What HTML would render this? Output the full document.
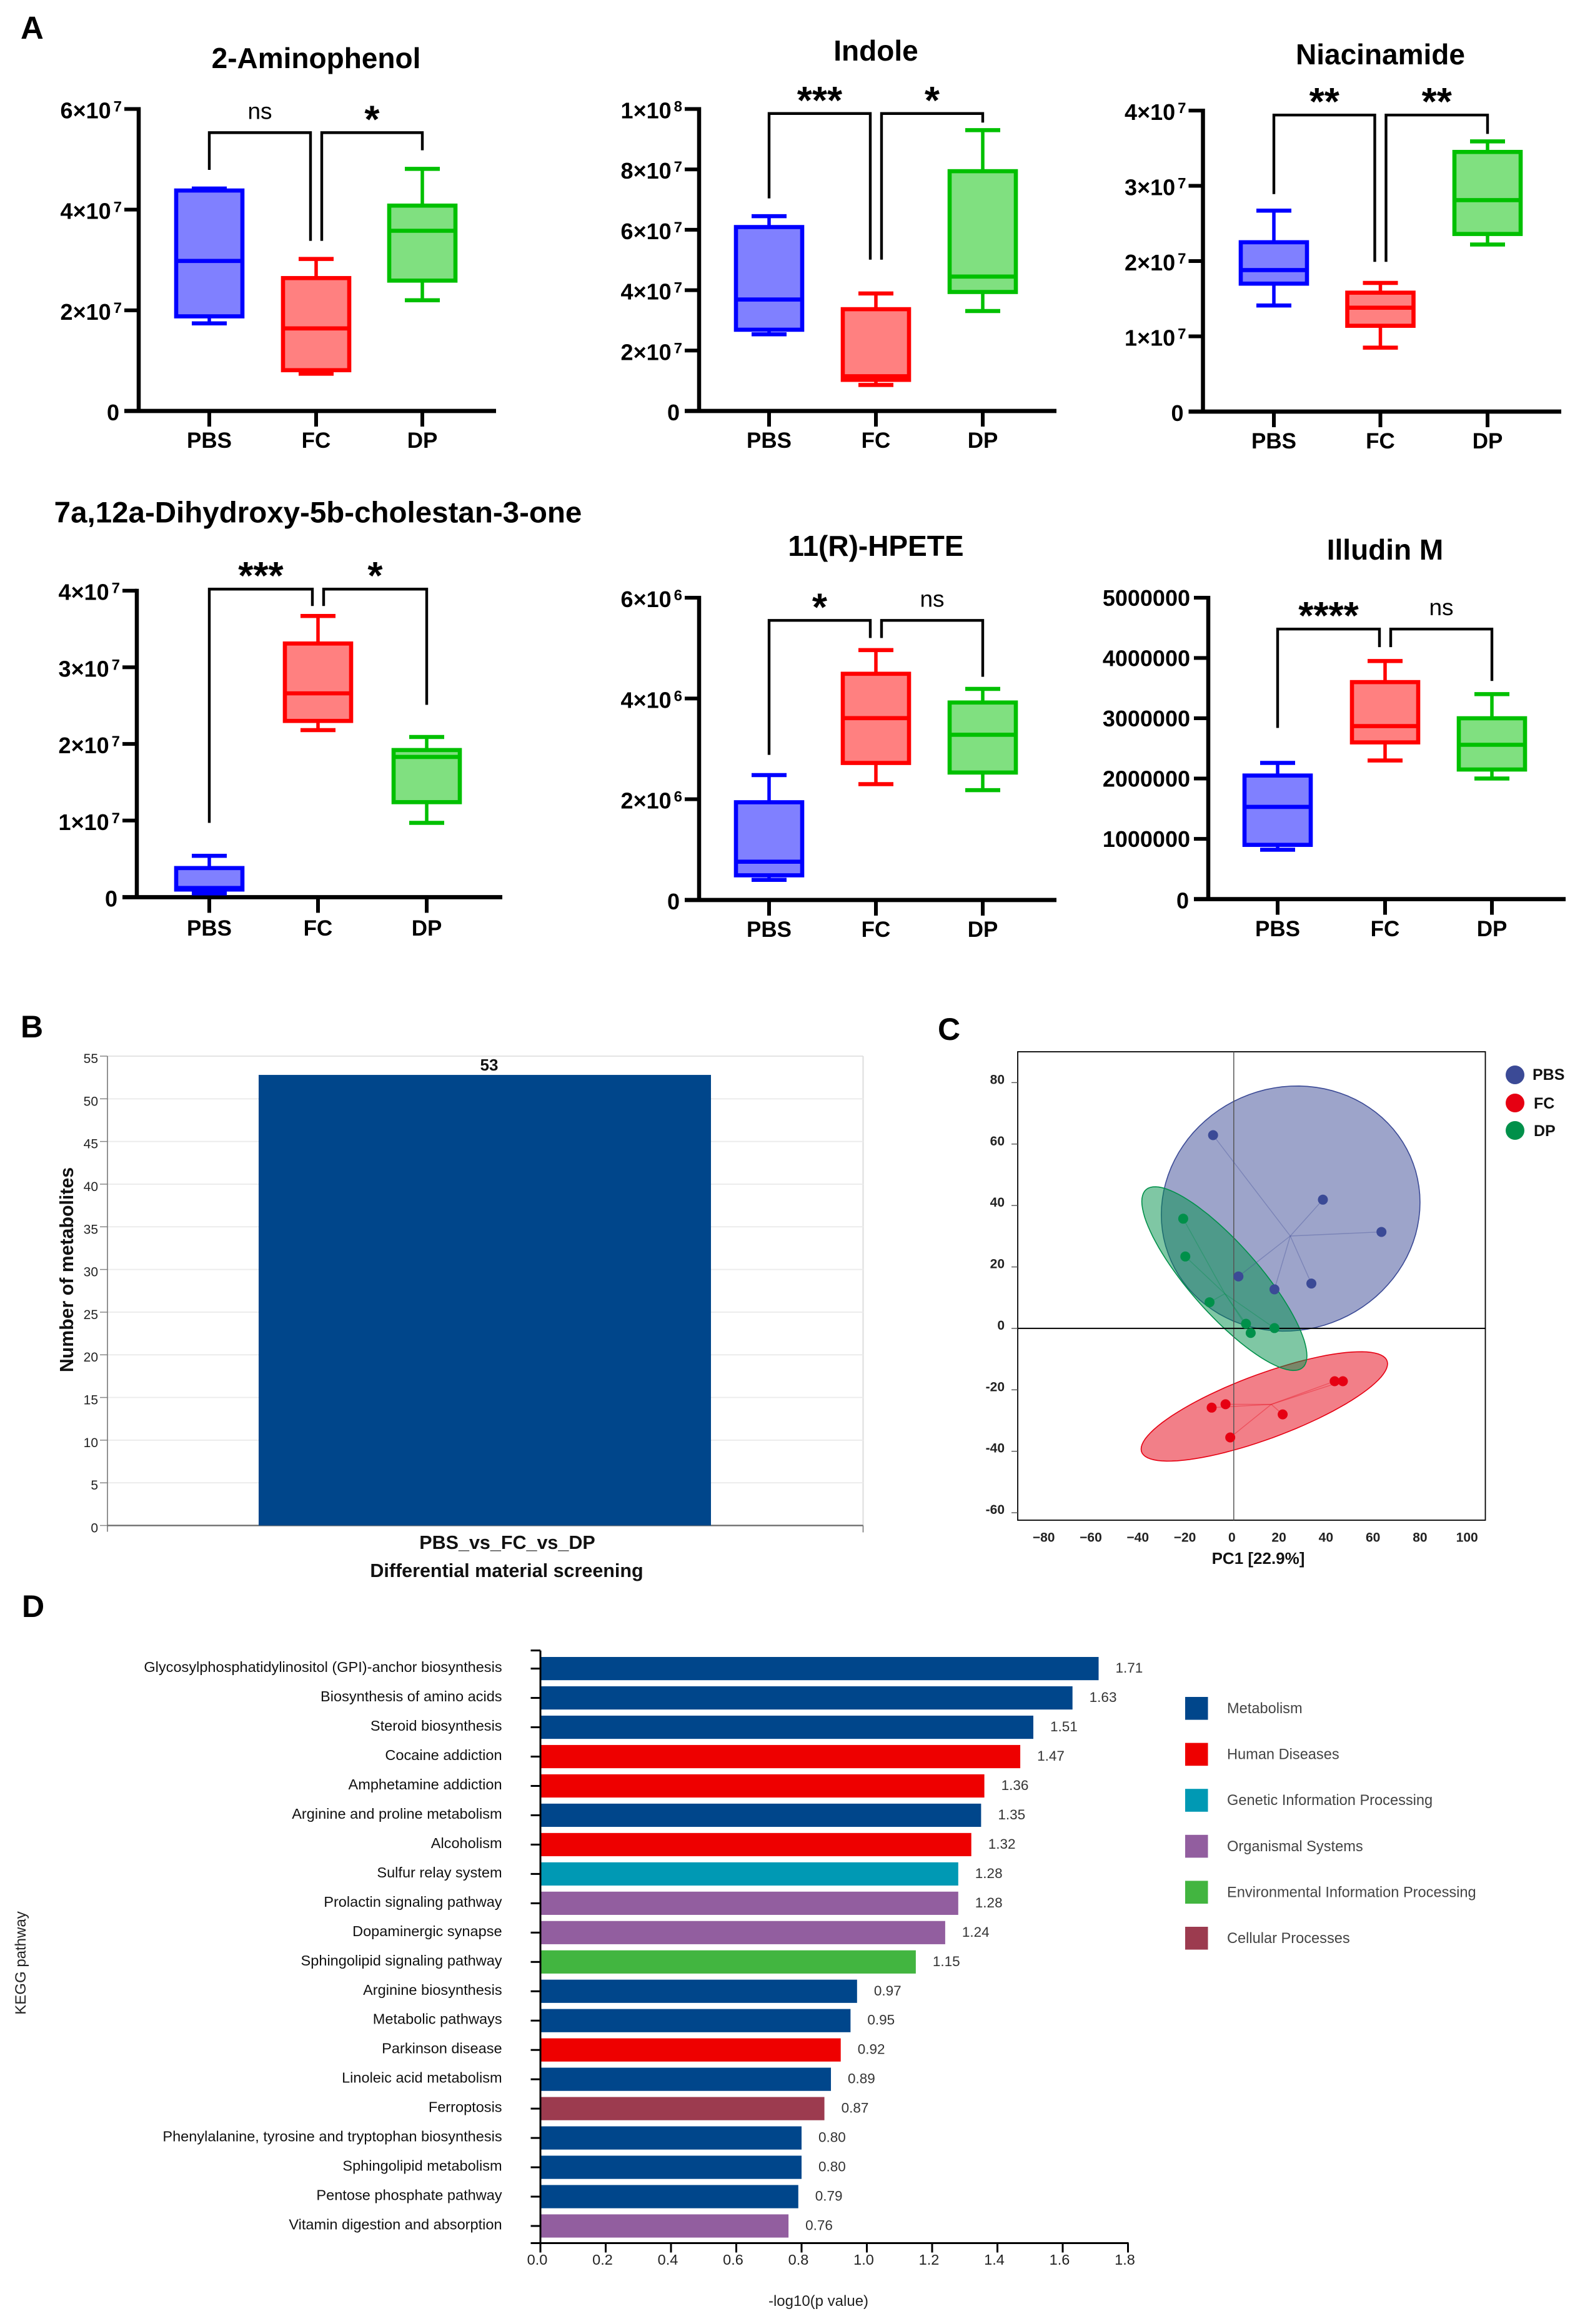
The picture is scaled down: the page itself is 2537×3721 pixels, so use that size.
<!DOCTYPE html>
<html lang="en">
<head>
<meta charset="utf-8">
<title>Metabolomics figure</title>
<style>
html,body{margin:0;padding:0;background:#fff}
svg{display:block}
text{font-family:"Liberation Sans",Arial,sans-serif}
</style>
</head>
<body>
<svg id="fig" xmlns="http://www.w3.org/2000/svg" width="2537" height="3721" viewBox="0 0 2537 3721">
<rect x="0" y="0" width="2537" height="3721" fill="#fff"/>
<text x="33" y="62" font-size="51" font-weight="700">A</text>
<text x="33" y="1661" font-size="50" font-weight="700">B</text>
<text x="1501" y="1665" font-size="50" font-weight="700">C</text>
<text x="35" y="2589" font-size="50" font-weight="700">D</text>
</svg>
<script>
// ---------- Panel A data: [low whisker, Q1, median, Q3, high whisker] per group ----------
const groups = ['PBS','FC','DP'];
const boxStroke = ['#0000ff','#ff0000','#00c000'];
const boxFill = ['#8080ff','#ff8080','#80e080'];

const aminophenolPBS = [1.74e7,1.88e7,2.98e7,4.38e7,4.42e7];
const aminophenolFC  = [0.74e7,0.81e7,1.64e7,2.64e7,3.02e7];
const aminophenolDP  = [2.20e7,2.59e7,3.58e7,4.08e7,4.81e7];
const aminophenolTicks = [0,2e7,4e7,6e7];
const aminophenolBracket = [5.53e7,4.79e7,3.38e7,5.18e7];
const aminophenolSig = ['ns','*'];

const indolePBS = [2.54e7,2.69e7,3.69e7,6.09e7,6.45e7];
const indoleFC  = [0.86e7,1.03e7,1.15e7,3.37e7,3.89e7];
const indoleDP  = [3.31e7,3.94e7,4.45e7,7.94e7,9.30e7];
const indoleTicks = [0,2e7,4e7,6e7,8e7,1e8];
const indoleBracket = [9.85e7,7.04e7,5.01e7,9.55e7];
const indoleSig = ['***','*'];

const niacinamidePBS = [1.41e7,1.70e7,1.88e7,2.25e7,2.67e7];
const niacinamideFC  = [0.85e7,1.14e7,1.38e7,1.58e7,1.71e7];
const niacinamideDP  = [2.22e7,2.36e7,2.81e7,3.45e7,3.59e7];
const niacinamideTicks = [0,1e7,2e7,3e7,4e7];
const niacinamideBracket = [3.94e7,2.89e7,1.99e7,3.69e7];
const niacinamideSig = ['**','**'];

const cholestanPBS = [0.05e7,0.10e7,0.12e7,0.38e7,0.54e7];
const cholestanFC  = [2.18e7,2.30e7,2.66e7,3.31e7,3.67e7];
const cholestanDP  = [0.97e7,1.24e7,1.83e7,1.92e7,2.09e7];
const cholestanTicks = [0,1e7,2e7,3e7,4e7];
const cholestanBracket = [4.02e7,0.97e7,3.80e7,2.51e7];
const cholestanSig = ['***','*'];

const hpetePBS = [0.40e6,0.49e6,0.76e6,1.94e6,2.48e6];
const hpeteFC  = [2.30e6,2.72e6,3.61e6,4.49e6,4.96e6];
const hpeteDP  = [2.18e6,2.53e6,3.28e6,3.92e6,4.19e6];
const hpeteTicks = [0,2e6,4e6,6e6];
const hpeteBracket = [5.55e6,2.88e6,5.20e6,4.43e6];
const hpeteSig = ['*','ns'];

const illudinPBS = [0.82e6,0.90e6,1.53e6,2.05e6,2.26e6];
const illudinFC  = [2.30e6,2.60e6,2.87e6,3.60e6,3.95e6];
const illudinDP  = [2.00e6,2.15e6,2.56e6,3.00e6,3.40e6];
const illudinTicks = [0,1e6,2e6,3e6,4e6,5e6];
const illudinBracket = [4.48e6,2.84e6,4.18e6,3.62e6];
const illudinSig = ['****','ns'];

// ---------- Panel B data ----------
const screeningCategories = ['PBS_vs_FC_vs_DP'];
const screeningValues = [52.8];
const screeningPrinted = ['53'];
const screeningTicks = [0,5,10,15,20,25,30,35,40,45,50,55];

// ---------- Panel C data ----------
const pcaXTicks = [-80,-60,-40,-20,0,20,40,60,80,100];
const pcaYTicks = [80,60,40,20,0,-20,-40,-60];
const pcaNames = ['PBS','FC','DP'];
const pcaColors = ['#3b4a96','#e60012','#00904a'];
const pbsPC1 = [-8.8,37.9,62.8,2.0,17.3,33.0];
const pbsPC2 = [62.9,41.9,31.4,16.9,12.7,14.6];
const fcPC1 = [-9.4,-3.5,-1.5,20.8,42.9,46.4];
const fcPC2 = [-25.8,-24.7,-35.5,-28.0,-17.2,-17.2];
const dpPC1 = [-21.5,-20.6,-10.3,5.2,7.2,17.3];
const dpPC2 = [35.7,23.4,8.5,1.5,-1.5,0.1];
// confidence ellipse: centre x, centre y, x half-extent, y half-extent, correlation
const pbsEllipse = [24.2,39.0,55.0,39.9,0.05];
const fcEllipse = [13.0,-25.4,52.4,17.8,0.78];
const dpEllipse = [-4.0,16.2,35.1,29.9,-0.84];

// ---------- Panel D data ----------
const pathways = ['Glycosylphosphatidylinositol (GPI)-anchor biosynthesis','Biosynthesis of amino acids','Steroid biosynthesis','Cocaine addiction','Amphetamine addiction','Arginine and proline metabolism','Alcoholism','Sulfur relay system','Prolactin signaling pathway','Dopaminergic synapse','Sphingolipid signaling pathway','Arginine biosynthesis','Metabolic pathways','Parkinson disease','Linoleic acid metabolism','Ferroptosis','Phenylalanine, tyrosine and tryptophan biosynthesis','Sphingolipid metabolism','Pentose phosphate pathway','Vitamin digestion and absorption'];
const pathwayValues = [1.71,1.63,1.51,1.47,1.36,1.35,1.32,1.28,1.28,1.24,1.15,0.97,0.95,0.92,0.89,0.87,0.80,0.80,0.79,0.76];
const pathwayClasses = [0,0,0,1,1,0,1,2,3,3,4,0,0,1,0,5,0,0,0,3];
const classNames = ['Metabolism','Human Diseases','Genetic Information Processing','Organismal Systems','Environmental Information Processing','Cellular Processes'];
const classColors = ['#00468b','#ee0000','#0099b4','#925e9f','#42b540','#9c3b4f'];
const pathwayTicks = [0,0.2,0.4,0.6,0.8,1.0,1.2,1.4,1.6,1.8];

// ---------- drawing helpers ----------
const NS = 'http://www.w3.org/2000/svg';
const fig = document.getElementById('fig');
function kebab(s){ return String(s).toLowerCase().replace(/[^a-z0-9]+/g,'-').replace(/^-|-$/g,''); }
function mkLine(p,name,x1,y1,x2,y2,stroke,w,cap){
  const el = document.createElementNS(NS,'line');
  
  
  el.setAttribute('x1',x1); el.setAttribute('y1',y1); el.setAttribute('x2',x2); el.setAttribute('y2',y2);
  el.setAttribute('stroke',stroke); el.setAttribute('stroke-width',w);
  if(cap) el.setAttribute('stroke-linecap',cap);
  p.appendChild(el); return el;
}
function mkRect(p,name,x,y,w,h,fill,stroke,sw){
  const el = document.createElementNS(NS,'rect');
  
  
  el.setAttribute('x',x); el.setAttribute('y',y); el.setAttribute('width',w); el.setAttribute('height',h);
  el.setAttribute('fill',fill);
  if(stroke){ el.setAttribute('stroke',stroke); el.setAttribute('stroke-width',sw); }
  p.appendChild(el); return el;
}
function mkCircle(p,name,cx,cy,r,fill){
  const el = document.createElementNS(NS,'circle');
  
  
  el.setAttribute('cx',cx); el.setAttribute('cy',cy); el.setAttribute('r',r); el.setAttribute('fill',fill);
  p.appendChild(el); return el;
}
function mkPath(p,name,d,fill,stroke,sw,fo){
  const el = document.createElementNS(NS,'path');
  
  
  el.setAttribute('d',d); el.setAttribute('fill',fill); el.setAttribute('stroke',stroke); el.setAttribute('stroke-width',sw);
  if(fo!==undefined) el.setAttribute('fill-opacity',fo);
  p.appendChild(el); return el;
}
function mkText(p,name,x,y,str,size,weight,anchor,color,rot){
  const el = document.createElementNS(NS,'text');
  
  
  el.setAttribute('x',x); el.setAttribute('y',y); el.setAttribute('font-size',size);
  el.setAttribute('font-weight',weight||400); el.setAttribute('text-anchor',anchor||'start');
  el.setAttribute('fill',color||'#000');
  if(rot) el.setAttribute('transform','rotate('+rot+' '+x+' '+y+')');
  el.textContent = str;
  p.appendChild(el); return el;
}
function mkGroup(name){
  const el = document.createElementNS(NS,'g');
  
  
  fig.appendChild(el); return el;
}
function sciLabel(p,name,x,y,v){
  const exp = Math.floor(Math.log10(v)+1e-9);
  const man = Math.round(v/Math.pow(10,exp));
  const el = mkText(p,name,x,y,'',36,700,'end');
  const a = document.createElementNS(NS,'tspan');
  a.textContent = man+'×10';
  const b = document.createElementNS(NS,'tspan');
  b.setAttribute('font-size','24'); b.setAttribute('dy','-11'); b.setAttribute('dx','4');
  b.textContent = exp;
  el.appendChild(a); el.appendChild(b);
}

// ---------- Panel A ----------
function drawBoxPanel(o){
  const g = mkGroup('box-panel-'+kebab(o.title));
  const y = v => o.y0 - (v/o.yMax)*(o.y0-o.yTop);
  const pre = kebab(o.title);
  mkText(g,pre+'-title',o.xs[1],o.titleY,o.title,o.titleSize||46,700,'middle');
  // axes
  mkLine(g,pre+'-y-axis',o.axisX,o.yTop-3,o.axisX,o.y0+3,'#000',6.5);
  mkLine(g,pre+'-x-axis',o.axisX-23,o.y0,o.xEnd,o.y0,'#000',6.8);
  o.ticks.forEach(t=>{
    mkLine(g,pre+'-y-tick',o.axisX-23,y(t),o.axisX,y(t),'#000',6);
    if(t===0) mkText(g,pre+'-y-tick-label',o.axisX-31,y(t)+15,'0',36,700,'end');
    else if(o.plain) mkText(g,pre+'-y-tick-label',o.axisX-29,y(t)+13,String(t),36,700,'end');
    else sciLabel(g,pre+'-y-tick-label',o.axisX-27,y(t)+15,t);
  });
  groups.forEach((name,i)=>{
    const x = o.xs[i], s = o.stats[i], c = boxStroke[i], f = boxFill[i];
    mkLine(g,pre+'-x-tick-'+kebab(name),x,o.y0,x,o.y0+25,'#000',6);
    mkText(g,pre+'-x-label-'+kebab(name),x,o.xLabelY,name,35,700,'middle');
    mkLine(g,pre+'-whisker-'+kebab(name),x,y(s[0]),x,y(s[4]),c,5.5);
    mkLine(g,pre+'-cap-low-'+kebab(name),x-28,y(s[0]),x+28,y(s[0]),c,6.5);
    mkLine(g,pre+'-cap-high-'+kebab(name),x-28,y(s[4]),x+28,y(s[4]),c,6.5);
    mkRect(g,pre+'-box-'+kebab(name),x-53,y(s[3]),106,y(s[1])-y(s[3]),f,c,6.6);
    mkLine(g,pre+'-median-'+kebab(name),x-53,y(s[2]),x+53,y(s[2]),c,6.6);
  });
  // significance brackets
  const b = o.bracket, top = y(b[0]);
  const d1 = 'M'+o.xs[0]+' '+y(b[1])+'V'+top+'H'+(o.xs[1]-9)+'V'+y(b[2]);
  const d2 = 'M'+(o.xs[1]+9)+' '+y(b[2])+'V'+top+'H'+o.xs[2]+'V'+y(b[3]);
  mkPath(g,pre+'-bracket-pbs-fc',d1,'none','#000',4.4);
  mkPath(g,pre+'-bracket-fc-dp',d2,'none','#000',4.4);
  [[(o.xs[0]+o.xs[1]-9)/2,o.sig[0]],[(o.xs[1]+9+o.xs[2])/2,o.sig[1]]].forEach((pair,i)=>{
    const nm = pre+'-significance-'+(i===0?'pbs-fc':'fc-dp');
    if(pair[1]==='ns') mkText(g,nm,pair[0],top-22,'ns',37,400,'middle');
    else mkText(g,nm,pair[0],top-36+36,pair[1],62,700,'middle');
  });
}
drawBoxPanel({title:'2-Aminophenol',axisX:222,y0:658,yTop:174.5,xs:[335,506,676],xEnd:794,titleY:109,xLabelY:717,yMax:6e7,ticks:aminophenolTicks,stats:[aminophenolPBS,aminophenolFC,aminophenolDP],bracket:aminophenolBracket,sig:aminophenolSig});
drawBoxPanel({title:'Indole',axisX:1119,y0:658,yTop:174.5,xs:[1231,1402,1573],xEnd:1691,titleY:97,xLabelY:717,yMax:1e8,ticks:indoleTicks,stats:[indolePBS,indoleFC,indoleDP],bracket:indoleBracket,sig:indoleSig});
drawBoxPanel({title:'Niacinamide',axisX:1925.5,y0:659,yTop:177,xs:[2039,2209.5,2381],xEnd:2499,titleY:103,xLabelY:718,yMax:4e7,ticks:niacinamideTicks,stats:[niacinamidePBS,niacinamideFC,niacinamideDP],bracket:niacinamideBracket,sig:niacinamideSig});
drawBoxPanel({title:'7a,12a-Dihydroxy-5b-cholestan-3-one',axisX:219,y0:1436.5,yTop:945.7,xs:[335,509,683],xEnd:804,titleY:836.5,titleSize:47.5,xLabelY:1498,yMax:4e7,ticks:cholestanTicks,stats:[cholestanPBS,cholestanFC,cholestanDP],bracket:cholestanBracket,sig:cholestanSig});
drawBoxPanel({title:'11(R)-HPETE',axisX:1119,y0:1441,yTop:957,xs:[1231,1402,1573],xEnd:1691,titleY:890,xLabelY:1500,yMax:6e6,ticks:hpeteTicks,stats:[hpetePBS,hpeteFC,hpeteDP],bracket:hpeteBracket,sig:hpeteSig});
drawBoxPanel({title:'Illudin M',axisX:1934,y0:1439.6,yTop:957,xs:[2045,2217,2388],xEnd:2506,titleY:896,xLabelY:1499,yMax:5e6,ticks:illudinTicks,stats:[illudinPBS,illudinFC,illudinDP],bracket:illudinBracket,sig:illudinSig,plain:true});

// ---------- Panel B ----------
(function(){
  const g = mkGroup('screening-bar-panel');
  const L=172,R=1381.5,B=2442.5,T=1691;
  const y = v => B-(v/55)*(B-T);
  mkLine(g,'screening-top-border',L,T,R,T,'#e4e4e4',2);
  mkLine(g,'screening-right-border',R,T,R,B,'#dddddd',2);
  screeningTicks.forEach(t=>{
    if(t>0 && t<55) mkLine(g,'screening-gridline',L,y(t),R,y(t),'#ececec',2);
    mkLine(g,'screening-y-tick',L-12,y(t),L,y(t),'#888',1.5);
    mkText(g,'screening-y-tick-label',157,y(t)+11,String(t),21,400,'end','#222');
  });
  mkLine(g,'screening-y-axis',L,T,L,B+10,'#777',1.6);
  mkLine(g,'screening-x-axis',L,B,R,B,'#666',2.2);
  mkLine(g,'screening-x-end-tick',R,B,R,B+11,'#777',1.6);
  screeningValues.forEach((v,i)=>{
    mkRect(g,'screening-bar',414,y(v),724,B-y(v),'#00468b');
    mkText(g,'screening-bar-value',783,y(v)-7,screeningPrinted[i],26,700,'middle','#111');
    mkText(g,'screening-x-label',812,2480,screeningCategories[i],30.5,700,'middle','#111');
  });
  mkText(g,'screening-x-title',811,2525,'Differential material screening',30.5,700,'middle','#111');
  mkText(g,'screening-y-title',117,2033,'Number of metabolites',30.3,700,'middle','#111',-90);
})();

// ---------- Panel C ----------
(function(){
  const g = mkGroup('pca-panel');
  const x = v => 1974.8 + v*3.764;
  const y = v => 2126.9 - v*4.919;
  const series = [[pbsPC1,pbsPC2,pbsEllipse],[fcPC1,fcPC2,fcEllipse],[dpPC1,dpPC2,dpEllipse]];
  const L=1629,R=2377.5,T=1684,B=2434;
  mkRect(g,'pca-plot-frame',L,T,R-L,B-T,'#fff','#000',1.8);
  pcaYTicks.forEach(t=>{
    mkLine(g,'pca-y-tick',L-10,y(t),L,y(t),'#555',1.4);
    mkText(g,'pca-y-tick-label',1608,y(t)+2,String(t),21,700,'end','#222');
  });
  pcaXTicks.forEach(t=>{
    mkText(g,'pca-x-tick-label',x(t)-3,2468.7,String(t).replace('-','−'),21,700,'middle','#222');
  });
  series.forEach((s,k)=>{
    const e = s[2]; let d='';
    for(let i=0;i<=96;i++){
      const t=i/96*2*Math.PI;
      const px=e[0]+e[2]*Math.cos(t);
      const py=e[1]+e[3]*(e[4]*Math.cos(t)+Math.sqrt(1-e[4]*e[4])*Math.sin(t));
      d+=(i?'L':'M')+x(px).toFixed(1)+' '+y(py).toFixed(1);
    }
    mkPath(g,'pca-ellipse-'+kebab(pcaNames[k]),d+'Z',pcaColors[k],pcaColors[k],1.6,0.5);
  });
  mkLine(g,'pca-vertical-zero-line',x(0),T,x(0),B,'#555',1.5);
  mkLine(g,'pca-horizontal-zero-line',L,y(0),R,y(0),'#000',2);
  series.forEach((s,k)=>{
    const n=s[0].length;
    const mx=s[0].reduce((a,b)=>a+b,0)/n, my=s[1].reduce((a,b)=>a+b,0)/n;
    s[0].forEach((v,i)=>{
      const el = mkLine(g,'pca-spoke-'+kebab(pcaNames[k]),x(mx),y(my),x(v),y(s[1][i]),pcaColors[k],1.4);
      el.setAttribute('stroke-opacity','0.35');
    });
    s[0].forEach((v,i)=>{
      mkCircle(g,'pca-point-'+kebab(pcaNames[k]),x(v),y(s[1][i]),8,pcaColors[k]);
    });
  });
  mkText(g,'pca-x-title',2014,2504,'PC1 [22.9%]',26,700,'middle','#111');
  pcaNames.forEach((n,i)=>{
    const ly=[1721,1766,1810][i];
    mkCircle(g,'pca-legend-marker-'+kebab(n),2425,ly,15,pcaColors[i]);
    mkText(g,'pca-legend-label-'+kebab(n),i===0?2453:2455,ly+(i===0?8:9),n,25,700,'start','#111');
  });
})();

// ---------- Panel D ----------
(function(){
  const g = mkGroup('kegg-panel');
  const X0=865, PX=522.5, C0=2671.6, STEP=46.97, AXB=3591.5;
  const x = v => X0+v*PX;
  const yc = i => C0+i*STEP;
  pathways.forEach((name,i)=>{
    const v=pathwayValues[i];
    mkRect(g,'kegg-bar-'+kebab(name),x(0),yc(i)-18.6,x(v)-x(0),37.2,classColors[pathwayClasses[i]]);
    mkLine(g,'kegg-y-tick',849.5,yc(i),X0,yc(i),'#000',3);
    mkText(g,'kegg-label-'+kebab(name),803.6,yc(i)+5.5,name,23.55,400,'end','#111');
    mkText(g,'kegg-value-'+kebab(name),x(v)+27,yc(i)+6.5,v.toFixed(2),22.5,400,'start','#333');
  });
  mkLine(g,'kegg-y-axis',X0,2642.6,X0,AXB+1.5,'#000',3);
  mkLine(g,'kegg-y-axis-top-tick',849.5,2642.6,X0,2642.6,'#000',3);
  mkLine(g,'kegg-x-axis',849.5,AXB,x(1.8)+1,AXB,'#000',3);
  pathwayTicks.forEach(t=>{
    mkLine(g,'kegg-x-tick',x(t),AXB,x(t),AXB+15,'#000',3);
    mkText(g,'kegg-x-tick-label',x(t)-5,3626,t.toFixed(1),23.5,400,'middle','#222');
  });
  mkText(g,'kegg-x-title',1310,3692,'-log10(p value)',24,400,'middle','#222');
  mkText(g,'kegg-y-title',41,3143,'KEGG pathway',24,400,'middle','#222',-90);
  classNames.forEach((n,i)=>{
    const sy=2717+i*73.6;
    mkRect(g,'kegg-legend-swatch-'+kebab(n),1897,sy,36.5,36.6,classColors[i]);
    mkText(g,'kegg-legend-label-'+kebab(n),1964,sy+26,n,23.6,400,'start','#444');
  });
})();
</script>
</body>
</html>
